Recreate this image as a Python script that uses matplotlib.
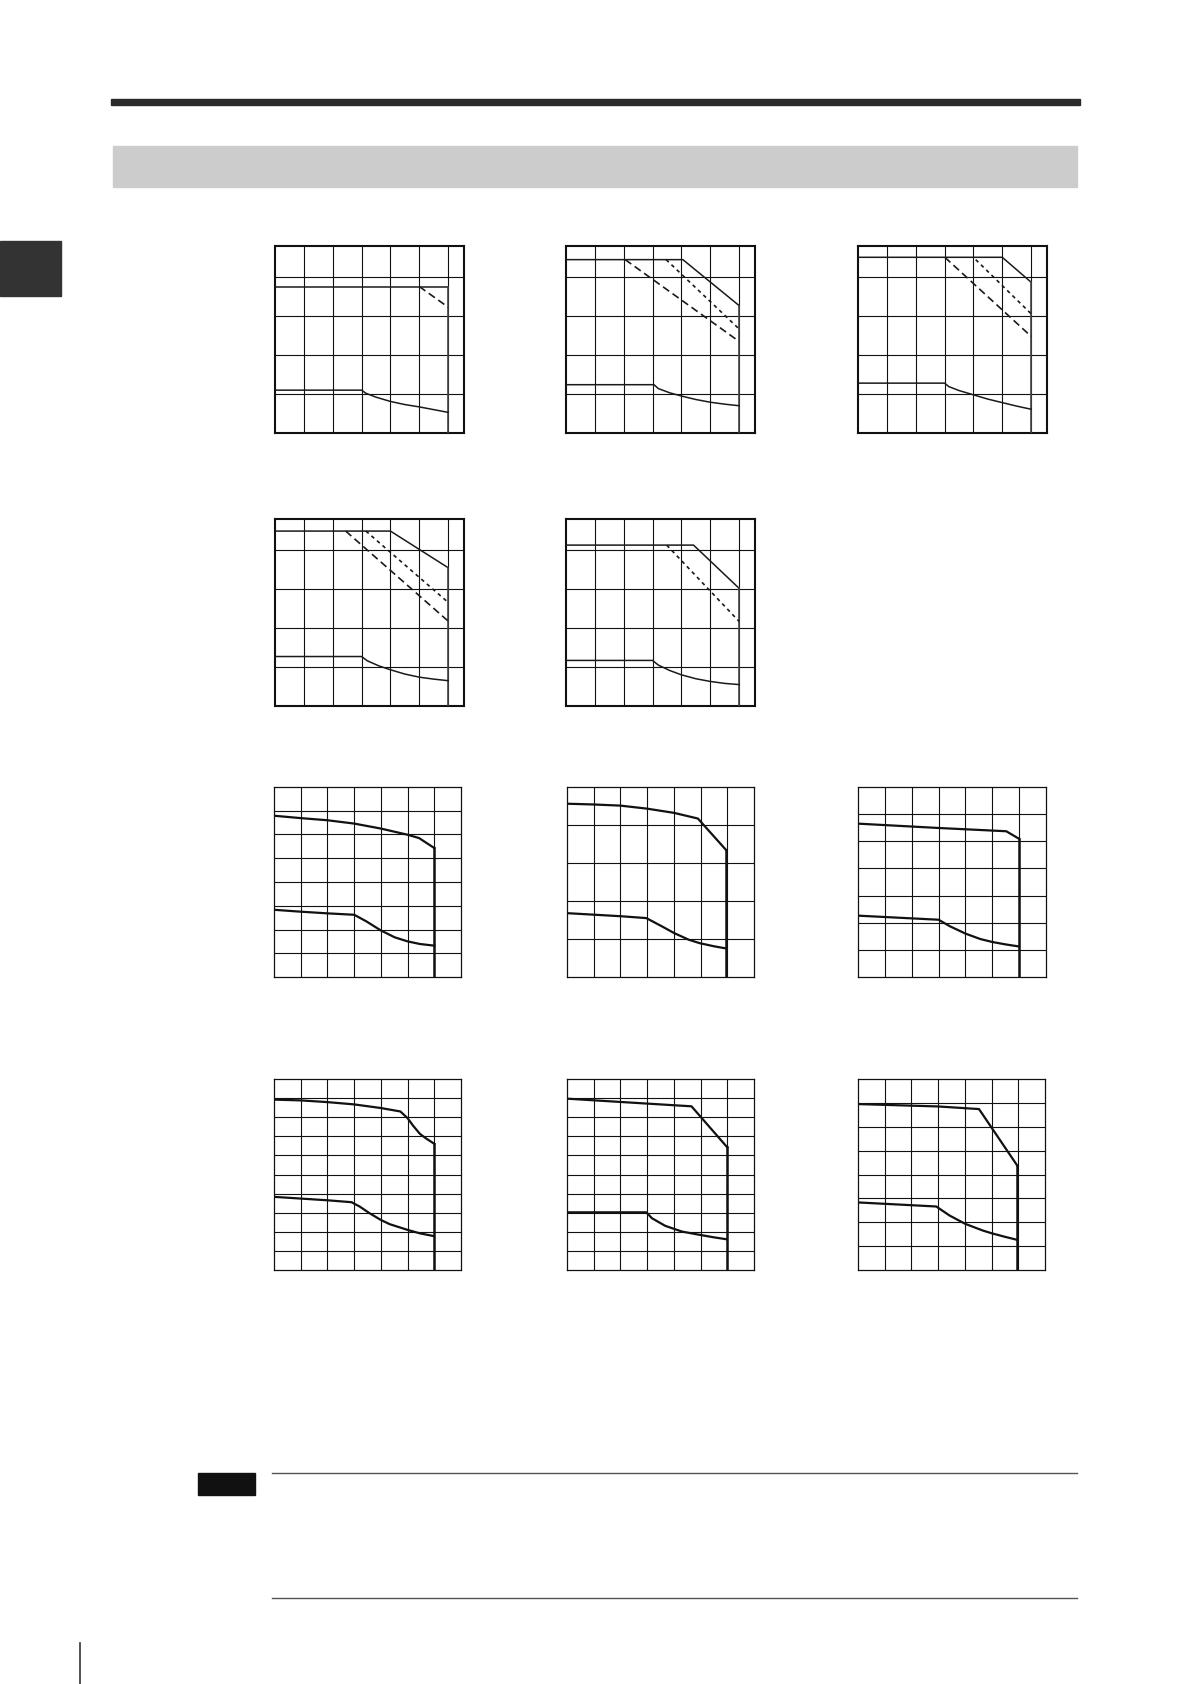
import matplotlib
matplotlib.use("Agg")
import matplotlib.pyplot as plt
from matplotlib.patches import Rectangle
from matplotlib.lines import Line2D

W, H = 1190, 1684

# ---- data (grid units) ----
# upper charts: x 0..6.5, y 0..4.8, grid 1 unit
c1_top_x = [0, 6.0]
c1_top_y = [3.76, 3.76]
c1_dash_x = [5.0, 6.0]
c1_dash_y = [3.76, 3.23]
c1_low_x = [0, 3.0, 3.15, 3.5, 4.0, 4.5, 5.0, 5.5, 6.0]
c1_low_y = [1.10, 1.10, 1.02, 0.92, 0.81, 0.73, 0.67, 0.60, 0.53]

c2_top_x = [0, 4.05, 6.0]
c2_top_y = [4.45, 4.45, 3.27]
c2_dot_x = [3.47, 6.0]
c2_dot_y = [4.45, 2.67]
c2_dash_x = [2.05, 6.0]
c2_dash_y = [4.45, 2.35]
c2_low_x = [0, 3.05, 3.2, 3.6, 4.05, 4.5, 5.0, 5.5, 6.0]
c2_low_y = [1.24, 1.24, 1.14, 1.03, 0.94, 0.86, 0.79, 0.74, 0.70]

c3_top_x = [0, 5.0, 6.0]
c3_top_y = [4.51, 4.51, 3.87]
c3_dot_x = [4.08, 6.0]
c3_dot_y = [4.45, 3.06]
c3_dash_x = [3.01, 6.0]
c3_dash_y = [4.51, 2.48]
c3_low_x = [0, 3.0, 3.15, 3.5, 4.0, 4.5, 5.0, 5.5, 6.0]
c3_low_y = [1.28, 1.28, 1.19, 1.09, 0.98, 0.87, 0.78, 0.69, 0.61]

c4_top_x = [0, 4.0, 6.0]
c4_top_y = [4.49, 4.49, 3.55]
c4_dot_x = [3.15, 6.0]
c4_dot_y = [4.49, 2.66]
c4_dash_x = [2.45, 6.0]
c4_dash_y = [4.49, 2.18]
c4_low_x = [0, 3.0, 3.2, 3.6, 4.0, 4.5, 5.0, 5.5, 6.0]
c4_low_y = [1.27, 1.27, 1.16, 1.03, 0.93, 0.82, 0.74, 0.69, 0.65]

c5_top_x = [0, 4.42, 6.0]
c5_top_y = [4.13, 4.13, 3.02]
c5_dot_x = [3.49, 6.0]
c5_dot_y = [4.13, 2.17]
c5_low_x = [0, 3.0, 3.2, 3.6, 4.0, 4.5, 5.0, 5.5, 6.0]
c5_low_y = [1.17, 1.17, 1.05, 0.91, 0.80, 0.70, 0.63, 0.58, 0.55]

# lower charts: x 0..7, grid 1 unit
c6_top_x = [0, 1, 2, 3, 4, 5, 5.43, 6.0]
c6_top_y = [6.79, 6.69, 6.60, 6.46, 6.25, 5.99, 5.85, 5.43]
c6_low_x = [0, 1, 2, 3, 3.2, 3.46, 4, 4.52, 5, 5.46, 6.0]
c6_low_y = [2.83, 2.75, 2.68, 2.62, 2.50, 2.34, 1.96, 1.67, 1.50, 1.39, 1.32]

c7_top_x = [0, 1, 2, 3, 4, 4.9, 5.97]
c7_top_y = [4.56, 4.54, 4.51, 4.43, 4.32, 4.17, 3.33]
c7_low_x = [0, 1, 2, 2.97, 3.56, 4, 4.56, 4.97, 5.49, 5.97]
c7_low_y = [1.68, 1.64, 1.60, 1.55, 1.33, 1.16, 0.98, 0.89, 0.81, 0.75]

c8_top_x = [0, 3, 5.52, 6.0]
c8_top_y = [5.65, 5.49, 5.37, 5.09]
c8_low_x = [0, 3, 3.42, 4, 4.55, 5, 5.5, 5.96]
c8_low_y = [2.26, 2.11, 1.87, 1.60, 1.40, 1.29, 1.20, 1.13]

c9_top_x = [0, 1, 2, 3, 4, 4.73, 5.0, 5.21, 5.46, 5.71, 6.0]
c9_top_y = [8.92, 8.88, 8.79, 8.67, 8.48, 8.30, 7.95, 7.55, 7.13, 6.87, 6.61]
c9_low_x = [0, 1, 2, 2.9, 3.21, 3.58, 4, 4.33, 5, 5.46, 5.96]
c9_low_y = [3.83, 3.74, 3.65, 3.55, 3.32, 2.97, 2.62, 2.40, 2.10, 1.92, 1.78]

c10_top_x = [0, 4.66, 6.0]
c10_top_y = [8.97, 8.57, 6.42]
c10_low_x = [0, 2.97, 3.18, 3.68, 4.31, 4.97, 5.5, 5.97]
c10_low_y = [3.02, 3.02, 2.71, 2.31, 2.01, 1.84, 1.71, 1.61]

c11_top_x = [0, 3, 4.53, 5.97]
c11_top_y = [6.95, 6.85, 6.74, 4.36]
c11_low_x = [0, 2.93, 3.43, 4.02, 4.68, 5.0, 5.5, 5.97]
c11_low_y = [2.83, 2.66, 2.28, 1.93, 1.65, 1.54, 1.39, 1.26]

fig = plt.figure(figsize=(W / 100, H / 100), dpi=100)


def box(x0, y0, x1, y1):
    return fig.add_axes([x0 / W, 1 - y1 / H, (x1 - x0) / W, (y1 - y0) / H])


def grid_axes(ax, xmax, ymax, border):
    ax.set_xlim(0, xmax)
    ax.set_ylim(0, ymax)
    for i in range(1, int(xmax) + 1):
        if i < xmax:
            ax.axvline(i, color="#111111", lw=0.8, zorder=1)
    for j in range(1, int(ymax) + 1):
        if j < ymax:
            ax.axhline(j, color="#111111", lw=0.8, zorder=1)
    ax.set_xticks([])
    ax.set_yticks([])
    for s in ax.spines.values():
        s.set_linewidth(border)
        s.set_color("#111111")


# upper type charts (two rows)
upper = [
    ((275, 246, 464, 433), c1_top_x, c1_top_y, None, (c1_dash_x, c1_dash_y), c1_low_x, c1_low_y),
    ((566, 246, 755, 433), c2_top_x, c2_top_y, (c2_dot_x, c2_dot_y), (c2_dash_x, c2_dash_y), c2_low_x, c2_low_y),
    ((858, 246, 1047, 433), c3_top_x, c3_top_y, (c3_dot_x, c3_dot_y), (c3_dash_x, c3_dash_y), c3_low_x, c3_low_y),
    ((275, 519, 464, 706), c4_top_x, c4_top_y, (c4_dot_x, c4_dot_y), (c4_dash_x, c4_dash_y), c4_low_x, c4_low_y),
    ((566, 519, 755, 706), c5_top_x, c5_top_y, (c5_dot_x, c5_dot_y), None, c5_low_x, c5_low_y),
]
for pos, tx, ty, dot, dash, lx, ly in upper:
    ax = box(*pos)
    grid_axes(ax, 6.55, 4.8, 1.5)
    ax.plot(tx, ty, color="#1a1a1a", lw=1.1, zorder=3)
    ax.plot([tx[-1], tx[-1]], [ty[-1], 0], color="#444444", lw=1.2, zorder=3)
    if dot:
        ax.plot(dot[0], dot[1], color="#1a1a1a", lw=1.2, dashes=(2.2, 2.2), zorder=3)
    if dash:
        ax.plot(dash[0], dash[1], color="#1a1a1a", lw=1.2, dashes=(4.5, 2.5), zorder=3)
    ax.plot(lx, ly, color="#1a1a1a", lw=1.1, zorder=3)

# lower type charts (two rows)
lower = [
    ((274, 787, 461, 977), 8, c6_top_x, c6_top_y, c6_low_x, c6_low_y),
    ((567, 787, 754, 977), 5, c7_top_x, c7_top_y, c7_low_x, c7_low_y),
    ((858, 787, 1046, 977), 7, c8_top_x, c8_top_y, c8_low_x, c8_low_y),
    ((274, 1079, 461, 1270), 10, c9_top_x, c9_top_y, c9_low_x, c9_low_y),
    ((567, 1079, 754, 1270), 10, c10_top_x, c10_top_y, c10_low_x, c10_low_y),
    ((858, 1079, 1045, 1270), 8, c11_top_x, c11_top_y, c11_low_x, c11_low_y),
]
for pos, ymax, tx, ty, lx, ly in lower:
    ax = box(*pos)
    grid_axes(ax, 7, ymax, 0.9)
    ax.plot(tx, ty, color="#111111", lw=1.6, zorder=3)
    ax.plot(lx, ly, color="#111111", lw=1.6, zorder=3)
    ax.plot([tx[-1], tx[-1]], [ty[-1], 0], color="#111111", lw=1.8, zorder=3)

# page decoration
page = fig.add_axes([0, 0, 1, 1])
page.set_xlim(0, W)
page.set_ylim(H, 0)
page.axis("off")
page.set_zorder(-1)
page.add_patch(Rectangle((111, 99), 969, 6, color="#2b2b2b"))
page.add_patch(Rectangle((113, 146), 964, 41, color="#cccccc"))
page.add_patch(Rectangle((0, 241), 61, 55, color="#333333"))
page.add_patch(Rectangle((198, 1473), 57, 22, color="#111111"))
page.add_line(Line2D([272, 1077], [1473, 1473], color="#555555", lw=1.0))
page.add_line(Line2D([272, 1077], [1598, 1598], color="#555555", lw=1.0))
page.add_line(Line2D([80, 80], [1643, 1684], color="#333333", lw=1.2))

fig.savefig("out.png", dpi=100)
